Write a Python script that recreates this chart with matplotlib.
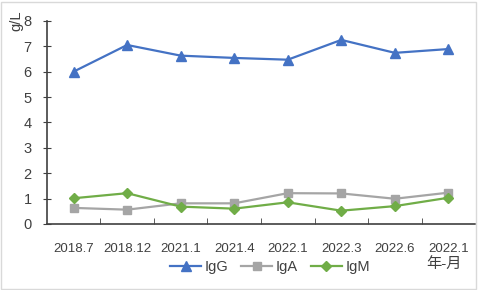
import matplotlib.pyplot as plt
from matplotlib.patches import Rectangle

# data
dates = ["2018.7", "2018.12", "2021.1", "2021.4", "2022.1", "2022.3", "2022.6", "2022.1"]
igg = [6.0, 7.05, 6.63, 6.54, 6.47, 7.25, 6.74, 6.89]
iga = [0.63, 0.56, 0.81, 0.81, 1.21, 1.2, 0.99, 1.23]
igm = [1.01, 1.21, 0.68, 0.6, 0.85, 0.52, 0.7, 1.03]

plt.rcParams['font.family'] = ['Liberation Sans', 'Noto Sans CJK SC', 'DejaVu Sans']

fig = plt.figure(figsize=(4.78, 2.9), dpi=100)
ax = fig.add_axes([0.098, 0.228, 0.896, 0.7])

x = list(range(len(dates)))
ax.plot(x, igg, color="#4472C4", marker="^", markersize=7.5, lw=1.6, label="IgG")
ax.plot(x, iga, color="#A5A5A5", marker="s", markersize=6, lw=1.6, label="IgA")
ax.plot(x, igm, color="#70AD47", marker="D", markersize=5.5, lw=1.6, label="IgM")

ax.set_xlim(-0.5, len(dates) - 0.5)
ax.set_ylim(0, 8)
ax.set_yticks(range(0, 9))
ax.set_xticks(x)
ax.set_xticklabels(dates)
ax.set_xticks([i + 0.5 for i in range(len(dates) - 1)], minor=True)

for s in ["top", "right"]:
    ax.spines[s].set_visible(False)
ax.spines["left"].set_color("#404040")
ax.spines["bottom"].set_color("#404040")
ax.spines["left"].set_linewidth(1.2)
ax.spines["bottom"].set_linewidth(1.2)

ax.tick_params(axis="x", which="major", length=0, pad=14, labelsize=9.5, labelcolor="#404040")
ax.tick_params(axis="x", which="minor", direction="in", length=4, color="#404040")
ax.tick_params(axis="y", direction="inout", length=6, labelsize=10.5, labelcolor="#404040",
               color="#404040", pad=8)

fig.text(0.034, 0.93, "g/L", rotation=90, ha="center", va="center", fontsize=10.5, color="#404040")
fig.text(0.928, 0.09, "年-月", ha="center", va="center", fontsize=11, color="#404040")

fig.legend(loc="center", bbox_to_anchor=(0.565, 0.079), ncol=3, frameon=False,
           fontsize=10.5, handlelength=2.1, columnspacing=0.9, handletextpad=0.25,
           labelcolor="#404040")

fig.patches.append(Rectangle((0.002, 0.004), 0.994, 0.99, transform=fig.transFigure,
                             fill=False, edgecolor="#D9D9D9", lw=1))

fig.savefig("out.png", dpi=100)
